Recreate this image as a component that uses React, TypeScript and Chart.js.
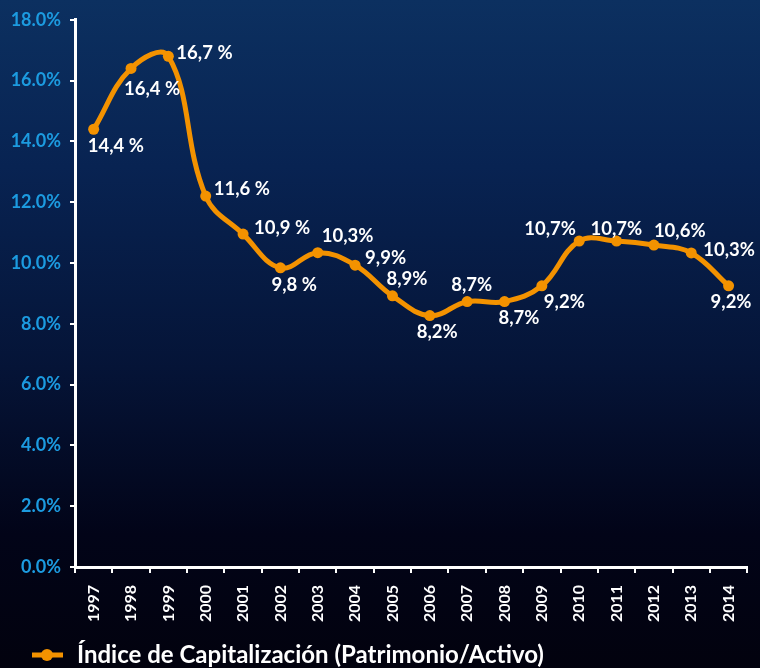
import React, { useEffect, useRef } from "react";
import { Chart, registerables } from "chart.js";

Chart.register(...registerables);

const years = ["1997","1998","1999","2000","2001","2002","2003","2004","2005","2006","2007","2008","2009","2010","2011","2012","2013","2014"];
const capitalIndex = [14.4,16.4,16.8,12.2,10.95,9.84,10.34,9.93,8.92,8.27,8.73,8.73,9.25,10.72,10.72,10.59,10.33,9.25];
const pointLabels = ["14,4 %","16,4 %","16,7 %","11,6 %","10,9 %","9,8 %","10,3%","9,9%","8,9%","8,2%","8,7%","8,7%","9,2%","10,7%","10,7%","10,6%","10,3%","9,2%"];
const seriesName = "Índice de Capitalización (Patrimonio/Activo)";

// label offsets (left edge dx, vertical centre dy) relative to each point
const labelOffsets: [number, number][] = [
  [-6, 17], [-7, 21], [8, -3], [8, -7], [11, -6], [-9, 17], [4, -17], [10, -7], [-6, -17],
  [-13, 16], [-16, -17], [-6, 16], [2, 16], [-55, -12], [-26, -12], [0, -14], [12, -3], [-18, 16],
];

const ORANGE = "#f39200";
const BLUE = "#1c9be0";
const FONT = "Lato, 'Open Sans', sans-serif";

const labelPlugin = {
  id: "pointLabels",
  afterDatasetsDraw(chart: any) {
    const ctx = chart.ctx;
    const meta = chart.getDatasetMeta(0);
    ctx.save();
    ctx.font = `bold 18.5px ${FONT}`;
    ctx.fillStyle = "#ffffff";
    ctx.textAlign = "left";
    ctx.textBaseline = "middle";
    meta.data.forEach((pt: any, i: number) => {
      const [dx, dy] = labelOffsets[i];
      ctx.fillText(pointLabels[i], pt.x + dx, pt.y + dy);
    });
    ctx.restore();
  },
};

const legendPlugin = {
  id: "customLegend",
  afterDraw(chart: any) {
    const ctx = chart.ctx;
    const y = 655;
    ctx.save();
    ctx.strokeStyle = ORANGE;
    ctx.lineWidth = 5;
    ctx.beginPath();
    ctx.moveTo(32, y);
    ctx.lineTo(63, y);
    ctx.stroke();
    ctx.fillStyle = ORANGE;
    ctx.beginPath();
    ctx.arc(47, y, 6, 0, Math.PI * 2);
    ctx.fill();
    ctx.font = `bold 24px ${FONT}`;
    ctx.fillStyle = "#ffffff";
    ctx.textAlign = "left";
    ctx.textBaseline = "middle";
    ctx.fillText(seriesName, 77, y);
    ctx.restore();
  },
};

export default function App() {
  const ref = useRef<HTMLCanvasElement | null>(null);
  useEffect(() => {
    if (!ref.current) return;
    const chart = new Chart(ref.current, {
      type: "line",
      data: {
        labels: years,
        datasets: [
          {
            label: seriesName,
            data: capitalIndex,
            borderColor: ORANGE,
            backgroundColor: ORANGE,
            borderWidth: 5,
            pointRadius: 5.5,
            pointBackgroundColor: ORANGE,
            pointBorderWidth: 0,
            tension: 0.4,
          },
        ],
      },
      options: {
        responsive: false,
        animation: false,
        devicePixelRatio: 1,
        layout: { padding: { top: 16, right: 8, bottom: 37, left: 0 } },
        plugins: { legend: { display: false }, tooltip: { enabled: false } },
        scales: {
          x: {
            offset: true,
            grid: { offset: true, drawOnChartArea: false, drawTicks: true, tickLength: 6, color: "#ffffff", lineWidth: 2 },
            border: { color: "#ffffff", width: 3 },
            ticks: {
              color: "#ffffff",
              font: { family: FONT, weight: "bold", size: 16 },
              maxRotation: 90,
              minRotation: 90,
              padding: 12,
              autoSkip: false,
            },
            afterFit: (s: any) => { s.height = 64; },
          },
          y: {
            min: 0,
            max: 18,
            grid: { drawOnChartArea: false, drawTicks: true, tickLength: 5, color: "#ffffff", lineWidth: 2 },
            border: { color: "#ffffff", width: 3 },
            ticks: {
              stepSize: 2,
              color: BLUE,
              padding: 9,
              font: { family: FONT, weight: "bold", size: 18 },
              callback: (v: any) => Number(v).toFixed(1) + "%",
            },
            afterFit: (s: any) => { s.width = 75; },
          },
        },
      },
      plugins: [labelPlugin, legendPlugin],
    });
    return () => chart.destroy();
  }, []);

  return (
    <div
      style={{
        position: "absolute",
        left: 0,
        top: 0,
        width: 760,
        height: 668,
        background: "linear-gradient(to bottom, #0c3060 0%, #082352 25%, #051437 55%, #020418 80%, #02020e 100%)",
      }}
    >
      <canvas ref={ref} width={760} height={668} style={{ display: "block" }} />
    </div>
  );
}
